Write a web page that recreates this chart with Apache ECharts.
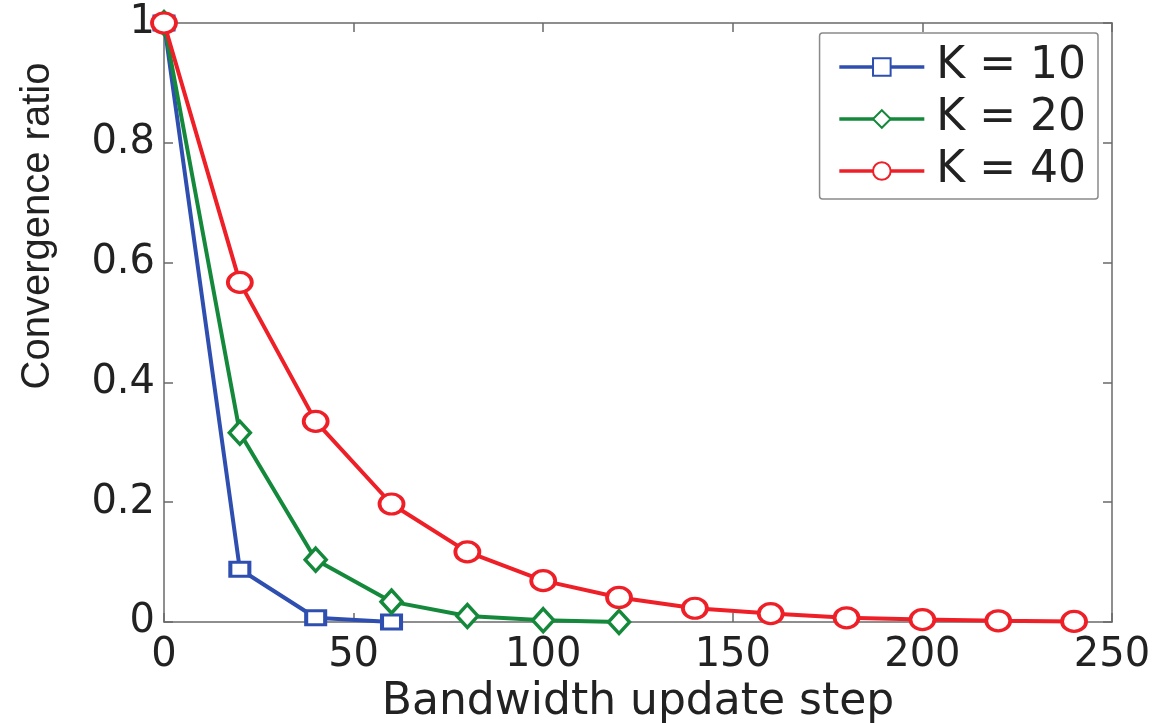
<!DOCTYPE html>
<html>
<head>
<meta charset="utf-8">
<script src="https://cdn.jsdelivr.net/npm/echarts@6/dist/echarts.min.js"></script>
<style>
  html, body { margin: 0; padding: 0; background: #fff; }
  #chart { width: 1164px; height: 723px; }
</style>
</head>
<body>
<div id="chart"></div>
<script>
// bandwidth update steps and convergence ratio
const stepsK10 = [0, 20, 40, 60]
const ratioK10 = [1, 0.088, 0.007, 0.0]
const stepsK20 = [0, 20, 40, 60, 80, 100, 120]
const ratioK20 = [1, 0.316, 0.104, 0.034, 0.01, 0.003, 0.0]
const stepsK40 = [0, 20, 40, 60, 80, 100, 120, 140, 160, 180, 200, 220, 240]
const ratioK40 = [1, 0.567, 0.335, 0.197, 0.117, 0.069, 0.041, 0.023, 0.014, 0.007, 0.004, 0.002, 0.001]

const zip = (xs, ys) => xs.map((x, i) => [x, ys[i]])

const wide = 'DejaVu Sans, Verdana, sans-serif'
const plain = 'Liberation Sans, Arial, Helvetica, sans-serif'
const axisGray = '#6a6a6a'

const chart = echarts.init(document.getElementById('chart'))

function makeSeries(name, xs, ys, color, symbol, size) {
  return {
    name: name,
    type: 'line',
    data: zip(xs, ys),
    symbol: symbol,
    symbolSize: size,
    showAllSymbol: true,
    lineStyle: { color: color, width: 4 },
    itemStyle: { color: '#fff', borderColor: color, borderWidth: 3.5 },
    emphasis: { disabled: true },
    animation: false,
    z: 3
  }
}

const tickStyle = { color: axisGray, width: 1.5 }

const option = {
  backgroundColor: '#fff',
  grid: { left: 164, right: 52, top: 23, bottom: 101, containLabel: false, outerBoundsMode: 'none' },
  legend: {
    top: 33,
    right: 66,
    orient: 'vertical',
    backgroundColor: '#fff',
    borderColor: '#8a8a8a',
    borderWidth: 1.5,
    borderRadius: 3,
    padding: [12, 12, 6, 18],
    itemWidth: 85,
    itemHeight: 22,
    itemGap: 8,
    lineStyle: { width: 3.5 },
    textStyle: { fontFamily: wide, fontSize: 44, color: '#222', padding: [0, 0, 0, 7] },
    data: ['K = 10', 'K = 20', 'K = 40']
  },
  graphic: [
    {
      type: 'text',
      x: 38,
      y: 226,
      rotation: Math.PI / 2,
      style: {
        text: 'Convergence ratio',
        font: '40px ' + plain,
        fill: '#222',
        align: 'center',
        verticalAlign: 'middle'
      }
    }
  ],
  xAxis: [
    {
      type: 'value',
      min: 0, max: 250, interval: 50,
      name: 'Bandwidth update step',
      nameLocation: 'middle',
      nameGap: 46,
      nameTextStyle: { fontFamily: wide, fontSize: 44, color: '#222' },
      axisLine: { lineStyle: tickStyle },
      axisTick: { inside: true, length: 9, lineStyle: tickStyle },
      axisLabel: { fontFamily: wide, fontSize: 40, color: '#222', margin: 14 },
      splitLine: { show: false }
    },
    {
      type: 'value', position: 'top',
      min: 0, max: 250, interval: 50,
      axisLine: { show: true, onZero: false, lineStyle: tickStyle },
      axisTick: { show: true, inside: true, length: 9, lineStyle: tickStyle },
      axisLabel: { show: false },
      splitLine: { show: false }
    }
  ],
  yAxis: [
    {
      type: 'value',
      min: 0, max: 1, interval: 0.2,
      axisLine: { show: true, onZero: false, lineStyle: tickStyle },
      axisTick: { show: true, inside: true, length: 9, lineStyle: tickStyle },
      axisLabel: { fontFamily: wide, fontSize: 40, color: '#222', margin: 9 },
      splitLine: { show: false }
    },
    {
      type: 'value', position: 'right',
      min: 0, max: 1, interval: 0.2,
      axisLine: { show: true, onZero: false, lineStyle: tickStyle },
      axisTick: { show: true, inside: true, length: 9, lineStyle: tickStyle },
      axisLabel: { show: false },
      splitLine: { show: false }
    }
  ],
  series: [
    makeSeries('K = 10', stepsK10, ratioK10, '#2f4fb0', 'rect', [19, 14]),
    makeSeries('K = 20', stepsK20, ratioK20, '#15893b', 'diamond', [21, 23]),
    makeSeries('K = 40', stepsK40, ratioK40, '#ee1f27', 'circle', [24, 20])
  ]
}

chart.setOption(option)
</script>
</body>
</html>
